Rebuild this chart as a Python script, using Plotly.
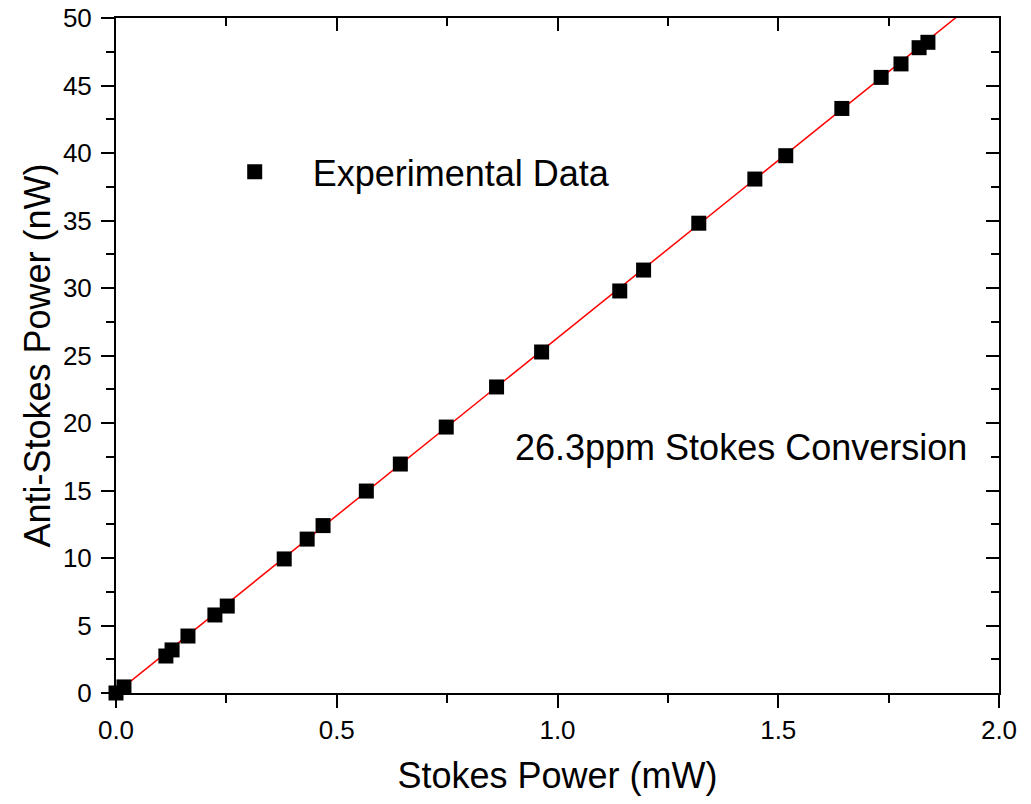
import plotly.graph_objects as go

# Data
stokes_mw = [0.0, 0.018, 0.113, 0.127, 0.163, 0.224, 0.252, 0.381, 0.433, 0.469,
             0.567, 0.644, 0.748, 0.862, 0.964, 1.141, 1.195, 1.320, 1.447, 1.517,
             1.644, 1.733, 1.778, 1.819, 1.839]
anti_stokes_nw = [0.0, 0.45, 2.74, 3.19, 4.22, 5.78, 6.44, 9.93, 11.4, 12.4,
                  14.96, 16.96, 19.7, 22.67, 25.26, 29.78, 31.33, 34.8, 38.07, 39.8,
                  43.3, 45.6, 46.6, 47.8, 48.2]

# Linear fit (26.3 ppm conversion)
fit_x = [0.0, 2.0]
fit_y = [0.0, 52.6]

x_ticks = [0.0, 0.5, 1.0, 1.5, 2.0]
y_ticks = [0, 5, 10, 15, 20, 25, 30, 35, 40, 45, 50]

FONT = "Arial, Liberation Sans, sans-serif"

fig = go.Figure()
fig.add_trace(go.Scatter(
    x=fit_x, y=fit_y, mode="lines",
    line=dict(color="#ff0000", width=1.5),
    showlegend=False, hoverinfo="skip"))
fig.add_trace(go.Scatter(
    x=stokes_mw, y=anti_stokes_nw, mode="markers",
    marker=dict(symbol="square", size=15, color="black",
                line=dict(width=0)),
    name="Experimental Data", cliponaxis=False))

axis_common = dict(showgrid=False, zeroline=False, showline=True,
                   linecolor="black", linewidth=2, tickcolor="black",
                   tickwidth=2, ticklen=13, automargin=False,
                   tickfont=dict(family=FONT, size=26, color="black"))

fig.update_layout(
    width=1031, height=804,
    margin=dict(l=116, r=32, t=18, b=111),
    paper_bgcolor="white", plot_bgcolor="white",
    font=dict(family=FONT, color="black"),
    xaxis=dict(range=[0, 2.0], tickvals=x_ticks, tickformat=".1f",
               ticks="outside",
               minor=dict(dtick=0.25, ticks="outside", ticklen=8,
                          tickwidth=2, tickcolor="black"),
               title=dict(text="Stokes Power (mW)",
                          font=dict(family=FONT, size=36), standoff=19),
               **axis_common),
    yaxis=dict(range=[0, 50], tickvals=y_ticks, ticks="outside",
               ticklabelstandoff=4,
               minor=dict(dtick=2.5, ticks="outside", ticklen=8,
                          tickwidth=2, tickcolor="black"),
               title=dict(text="Anti-Stokes Power (nW)",
                          font=dict(family=FONT, size=36), standoff=1),
               **axis_common),
    xaxis2=dict(range=[0, 2.0], overlaying="x", side="top",
                tickvals=x_ticks, ticks="inside", showticklabels=False,
                minor=dict(dtick=0.25, ticks="inside", ticklen=8,
                           tickwidth=2, tickcolor="black"),
                **axis_common),
    yaxis2=dict(range=[0, 50], overlaying="y", side="right",
                tickvals=y_ticks, ticks="inside", showticklabels=False,
                minor=dict(dtick=2.5, ticks="inside", ticklen=8,
                           tickwidth=2, tickcolor="black"),
                **axis_common),
    legend=dict(x=0.0914, y=0.772, xanchor="left", yanchor="middle",
                bgcolor="rgba(0,0,0,0)", itemwidth=106,
                font=dict(family=FONT, size=36, color="black")),
    annotations=[dict(x=0.9, y=18.2, xref="x", yref="y",
                      text="26.3ppm Stokes Conversion", showarrow=False,
                      xanchor="left", yanchor="middle",
                      font=dict(family=FONT, size=36, color="black"))],
)

# dummy invisible trace to activate the mirrored axes
fig.add_trace(go.Scatter(x=[None], y=[None], xaxis="x2", yaxis="y2",
                         showlegend=False, hoverinfo="skip"))

fig.write_html("out.html",
               config={"displayModeBar": False},
               post_script="document.body.style.margin='0';"
                           "document.body.style.overflow='hidden';")
